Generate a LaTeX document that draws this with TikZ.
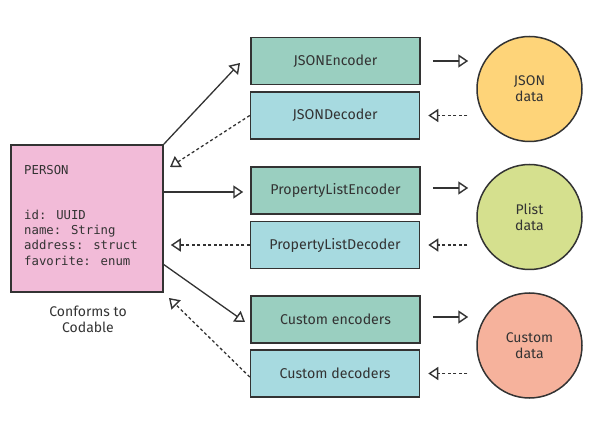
\documentclass[tikz,border=0pt]{standalone}
\usepackage{fontspec}
\setmainfont{Fira Sans}
\newfontfamily\codefont{DejaVu Sans Mono}
\usetikzlibrary{arrows.meta,positioning}
\definecolor{ink}{HTML}{333333}
\definecolor{encfill}{HTML}{9ACFC0}
\definecolor{decfill}{HTML}{A7DAE0}
\definecolor{personfill}{HTML}{F2BBD8}
\definecolor{jsonfill}{HTML}{FED479}
\definecolor{plistfill}{HTML}{D5E08E}
\definecolor{customfill}{HTML}{F6B29C}
\tikzset{
  box/.style={draw=ink, line width=1.5pt, minimum width=169pt, minimum height=47pt, inner sep=0pt, font=\fontsize{14.2}{16}\selectfont, text=ink},
  encbox/.style={box, fill=encfill},
  decbox/.style={box, fill=decfill},
  datacircle/.style={circle, draw=ink, line width=1.5pt, minimum size=105pt, inner sep=0pt, align=center, font=\fontsize{14}{16}\selectfont, text=ink},
  tip/.style={-{Triangle[open, length=10pt, width=13pt, line width=1.4pt]}},
  enc/.style={draw=ink, line width=1.3pt, tip},
  dec/.style={draw=ink, line width=1.3pt, tip, dash pattern=on 3pt off 2.5pt},
}
\begin{document}
\begin{tikzpicture}[x=1pt, y=-1pt]
\useasboundingbox (0,0) rectangle (602,443);
% person
\node[draw=ink, fill=personfill, line width=1.5pt, minimum width=152pt, minimum height=147pt, inner sep=0pt] (p) at (87,218.5) {};
\node[anchor=base west, inner sep=0pt, text=ink, font=\codefont\fontsize{12.3}{15.4}\selectfont] (ptitle) at (24,175) {PERSON};
\node[anchor=north west, inner sep=0pt, text=ink, align=left, font=\codefont\fontsize{12.3}{15.4}\selectfont] (pfields) at (24,209.5) {id: UUID\\name: String\\address: struct\\favorite: enum};
\node[text=ink, align=center, font=\fontsize{14}{16}\selectfont] (plabel) at (88,319.5) {Conforms to\\Codable};
% boxes
\node[encbox] (je) at (335.5,61) {JSONEncoder};
\node[decbox] (jd) at (335,115.5) {JSONDecoder};
\node[encbox] (ple) at (335.5,190.5) {PropertyListEncoder};
\node[decbox] (pld) at (335,245) {PropertyListDecoder};
\node[encbox] (ce) at (335.5,319.5) {Custom encoders};
\node[decbox] (cd) at (335,373.5) {Custom decoders};
% circles
\node[datacircle, fill=jsonfill] (jdata) at (529.5,89) {JSON\\data};
\node[datacircle, fill=plistfill] (pdata) at (529.5,217) {Plist\\data};
\node[datacircle, fill=customfill] (cdata) at (529.5,345.5) {Custom\\data};
% free ends
\coordinate (t1) at (240,63);
\coordinate (t2) at (170,167);
\coordinate (s3) at (163,264);
\coordinate (t3) at (245,322);
\coordinate (t4) at (169,298);
% left connectors
\draw[enc] (p.north east) -- (t1);
\draw[dec] (jd.west) -- (t2);
\draw[enc, shorten >=7pt] (p.east |- 0,192) -- (ple.west |- 0,192);
\draw[dec, shorten >=7pt] (pld.west) -- (pld.west -| p.east);
\draw[enc] (s3) -- (t3);
\draw[dec] (cd.west |- 0,377) -- (t4);
% right connectors
\draw[enc, shorten <=12pt, shorten >=8pt] (je.east |- 0,61) -- (jdata.west |- 0,61);
\draw[dec, shorten <=9pt, shorten >=8pt] (jdata.west |- jd.east) -- (jd.east);
\draw[enc, shorten <=12pt, shorten >=8pt] (ple.east |- 0,188) -- (pdata.west |- 0,188);
\draw[dec, shorten <=9pt, shorten >=8pt] (pdata.west |- pld.east) -- (pld.east);
\draw[enc, shorten <=12pt, shorten >=8pt] (ce.east |- 0,317) -- (cdata.west |- 0,317);
\draw[dec, shorten <=9pt, shorten >=8pt] (cdata.west |- cd.east) -- (cd.east);
\end{tikzpicture}
\end{document}
